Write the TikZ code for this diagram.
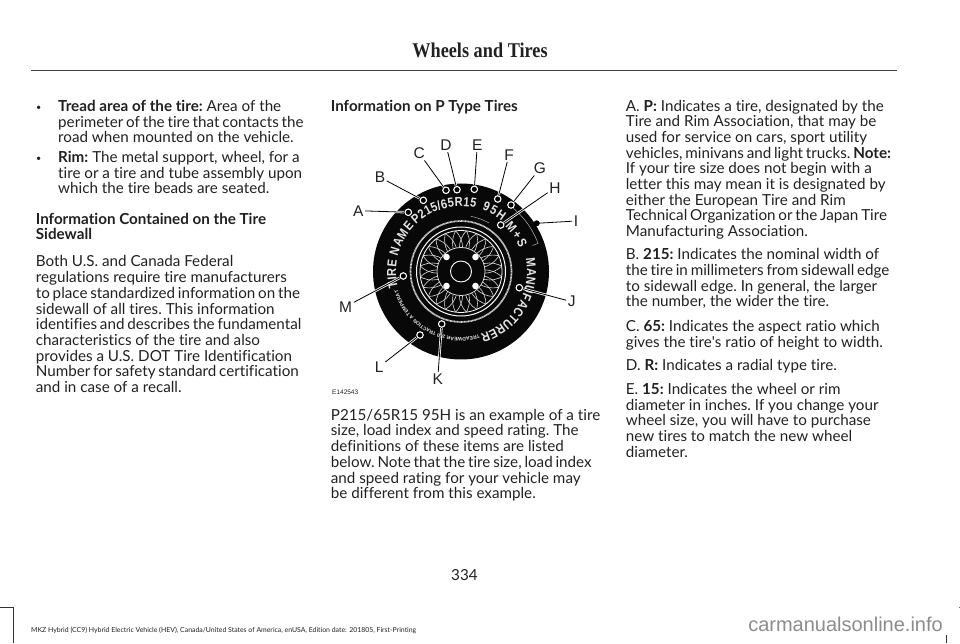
\documentclass[tikz,border=0pt]{standalone}
\usepackage{fontspec}
\setmainfont[Ligatures=NoCommon]{Lato}
\newfontfamily\plainlato{Lato}
\newfontfamily\tirefont{Liberation Sans}
\newfontfamily\tirecond[FakeStretch=0.85]{Liberation Sans}
\newfontfamily\titlefont[FakeStretch=0.87]{Liberation Serif}
\usetikzlibrary{decorations.text}
\definecolor{inktext}{gray}{0.13}
\definecolor{rubber}{gray}{0.03}
\newcommand{\sidewallbig}{\tirecond\bfseries\fontsize{13}{13}\selectfont}
\newcommand{\sidewalltiny}{\tirefont\bfseries\fontsize{5}{5}\selectfont}
\newcommand{\snug}[1]{{\spaceskip=0.185em\relax #1}}

\begin{document}
\begin{tikzpicture}[x=1pt, y=1pt,
    copytext/.style={anchor=base west, align=left, inner sep=0pt, text=inktext, font=\fontsize{15.2}{15.7}\selectfont\frenchspacing},
    bulletmark/.style={copytext, font=\fontsize{9}{9}\selectfont},
    callout/.style={inner sep=1.5pt, text=inktext, font=\tirefont\fontsize{15.5}{15.5}\selectfont},
    ringdot/.style={circle, draw=black, fill=black, double=white, double distance=1.1pt, line width=0.5pt, inner sep=0pt, minimum size=6.5pt},
    plaindot/.style={circle, fill=black, inner sep=0pt, minimum size=6pt},
    halo/.style={white, line width=2.4pt},
    leader/.style={black, line width=0.8pt},
    sidewall/.style={decorate, decoration={text along path, text color=white!90!black, text align={fit to path}, text={#1}}}
]
\useasboundingbox (0,0) rectangle (960,643);

% page head
\node[inner sep=0pt, anchor=base, text=inktext, font=\titlefont\bfseries\fontsize{21}{21}\selectfont] (title) at (480,585.7) {Wheels and Tires};
\coordinate (ruleL) at (31,573);
\coordinate (ruleR) at (897,573);
\draw[line width=0.9pt, black!75] (ruleL) -- (ruleR);

% left column
\node[bulletmark] (bullettread) at (36,532.5) {•};
\node[copytext] (tread) at (58,500) {\textbf{Tread area of the tire:} Area of the\\\snug{perimeter of the tire that contacts the}\\road when mounted on the vehicle.};
\node[bulletmark] (bulletrim) at (36,481) {•};
\node[copytext] (rim) at (58,449) {\textbf{Rim:} The metal support, wheel, for a\\tire or a tire and tube assembly upon\\which the tire beads are seated.};
\node[copytext] (infohead) at (35.7,403) {\textbf{Information Contained on the Tire}\\\textbf{Sidewall}};
\node[copytext] (sidewalltext) at (35.7,250.5) {Both U.S. and Canada Federal\\regulations require tire manufacturers\\\snug{to place standardized information on the}\\sidewall of all tires. This information\\\snug{identifies and describes the fundamental}\\characteristics of the tire and also\\provides a U.S. DOT Tire Identification\\\snug{Number for safety standard certification}\\and in case of a recall.};

% middle column
\node[copytext] (ptypehead) at (330.7,531.5) {\textbf{Information on P Type Tires}};
\node[copytext, font=\tirefont\fontsize{6.5}{7}\selectfont] (figcode) at (332,248.3) {E142543};
\node[copytext] (example) at (330.7,144.3) {P215/65R15 95H is an example of a tire\\size, load index and speed rating. The\\definitions of these items are listed\\\snug{below. Note that the tire size, load index}\\and speed rating for your vehicle may\\be different from this example.};

% right column
\node[copytext] (defa) at (625.7,406.3) {A. \textbf{P:} Indicates a tire, designated by the\\Tire and Rim Association, that may be\\used for service on cars, sport utility\\\snug{vehicles, minivans and light trucks. \textbf{Note:}}\\If your tire size does not begin with a\\letter this may mean it is designated by\\either the European Tire and Rim\\\snug{Technical Organization or the Japan Tire}\\Manufacturing Association.};
\node[copytext] (defb) at (625.7,336.2) {B. \textbf{215:} Indicates the nominal width of\\\snug{the tire in millimeters from sidewall edge}\\to sidewall edge. In general, the larger\\the number, the wider the tire.};
\node[copytext] (defc) at (625.7,295.7) {C. \textbf{65:} Indicates the aspect ratio which\\gives the tire{\plainlato'}s ratio of height to width.};
\node[copytext] (defd) at (625.7,272.3) {D. \textbf{R:} Indicates a radial type tire.};
\node[copytext] (defe) at (625.7,185.7) {E. \textbf{15:} Indicates the wheel or rim\\diameter in inches. If you change your\\wheel size, you will have to purchase\\new tires to match the new wheel\\diameter.};

% tire
\coordinate (hub) at (461,371.5);
\fill[rubber] (hub) circle (88);
\draw[white!85!black, line width=1.7pt, dash pattern=on 0.9pt off 0.5pt] (hub) circle (50.5);
\draw[white, line width=1pt] (hub) circle (44.5);
\draw[white, line width=0.8pt] (hub) circle (41);
\begin{scope}
  \clip (hub) circle (41);
  \foreach \ang in {0,15,...,345}
    \draw[white!85!black, line width=0.6pt] ([shift={(\ang:33)}]hub) circle (25);
\end{scope}
\fill[rubber] (hub) circle (24);
\draw[white!90!black, line width=0.7pt] (hub) circle (24);
\draw[white, line width=0.9pt] (hub) circle (10.5);
\foreach \dx/\dy in {-14.5/14.5, 14.5/14.5, -14.5/-14.5, 14.5/-14.5}
  \fill[white] ([shift={(\dx,\dy)}]hub) circle (3.3);

% sidewall lettering
\path[sidewall={|\sidewallbig|TIRE NAME}] ([shift={(194:65)}]hub) arc[start angle=194, end angle=136, radius=65];
\path[sidewall={|\sidewallbig|P215/65R15}] ([shift={(134:65)}]hub) arc[start angle=134, end angle=77, radius=65];
\path[sidewall={|\sidewallbig|95H}] ([shift={(71:65)}]hub) arc[start angle=71, end angle=51, radius=65];
\path[sidewall={|\sidewallbig|M+S}] ([shift={(46:63)}]hub) arc[start angle=46, end angle=22, radius=63];
\path[sidewall={|\sidewallbig|MANUFACTURER}] ([shift={(11:66)}]hub) arc[start angle=11, end angle=-73, radius=66];
\path[sidewall={|\sidewalltiny|TREADWEAR 220 TRACTION A TEMPERATURE A}] ([shift={(-74:66)}]hub) arc[start angle=-74, end angle=-164, radius=66];
\draw[white!70!black, line width=0.5pt] ([shift={(52:82)}]hub) arc[start angle=52, end angle=20, radius=82] -- ([shift={(20:76)}]hub);
\draw[white!70!black, line width=0.5pt] ([shift={(80:56)}]hub) arc[start angle=80, end angle=60, radius=56];

% callouts
\node[callout] (A) at (358.3,432.3) {A};
\node[callout] (B) at (380,465.7) {B};
\node[callout] (C) at (419.3,489.7) {C};
\node[callout] (D) at (446,498) {D};
\node[callout] (E) at (477.3,498) {E};
\node[callout] (F) at (509,488) {F};
\node[callout] (G) at (540,474.7) {G};
\node[callout] (H) at (555,455.3) {H};
\node[callout] (I) at (576,422) {I};
\node[callout] (J) at (571.7,341.3) {J};
\node[callout] (K) at (437.7,264) {K};
\node[callout] (L) at (379.3,276.3) {L};
\node[callout] (M) at (345.7,336.3) {M};

\coordinate (dotA) at (408.3,430.7);
\coordinate (dotB) at (423.3,442.7);
\coordinate (dotC) at (446,452.7);
\coordinate (dotD) at (457,453.3);
\coordinate (dotE) at (474.3,453.7);
\coordinate (dotF) at (497.7,444);
\coordinate (dotG) at (511,438);
\coordinate (dotH) at (500.7,418);
\coordinate (dotI) at (536.7,419.7);
\coordinate (dotJ) at (519.3,355.3);
\coordinate (dotK) at (441.7,319);
\coordinate (dotL) at (420,308);
\coordinate (dotM) at (403.3,367);

\foreach \name in {A,B,C,D,E,F,G,H,I,J,K,L,M} {
  \draw[halo] (\name) -- (dot\name);
  \draw[leader] (\name) -- (dot\name);
}
\foreach \name in {A,B,C,D,E,F,G,H,J,K,L,M}
  \node[ringdot] (ring\name) at (dot\name) {};
\node[plaindot] (ringI) at (dotI) {};

% page foot
\node[copytext] (pageno) at (451,63) {334};
\node[copytext, font=\fontsize{6.9}{7}\selectfont] (footer) at (31,10.5) {MKZ Hybrid (CC9) Hybrid Electric Vehicle (HEV), Canada/United States of America, enUSA, Edition date: 201805, First-Printing};
\node[inner sep=0pt, anchor=base east, text=black!45, font=\tirefont\fontsize{20}{20}\selectfont] (watermark) at (943,11.3) {carmanualsonline.info};

% crop marks
\draw[line width=0.6pt, black!80] (0,36) -- (13,36) -- (13,0);
\draw[line width=0.6pt, black!80] (946.7,0) -- (946.7,8);
\draw[line width=0.6pt, black!60] (959,36) -- (960,36);
\end{tikzpicture}
\end{document}
